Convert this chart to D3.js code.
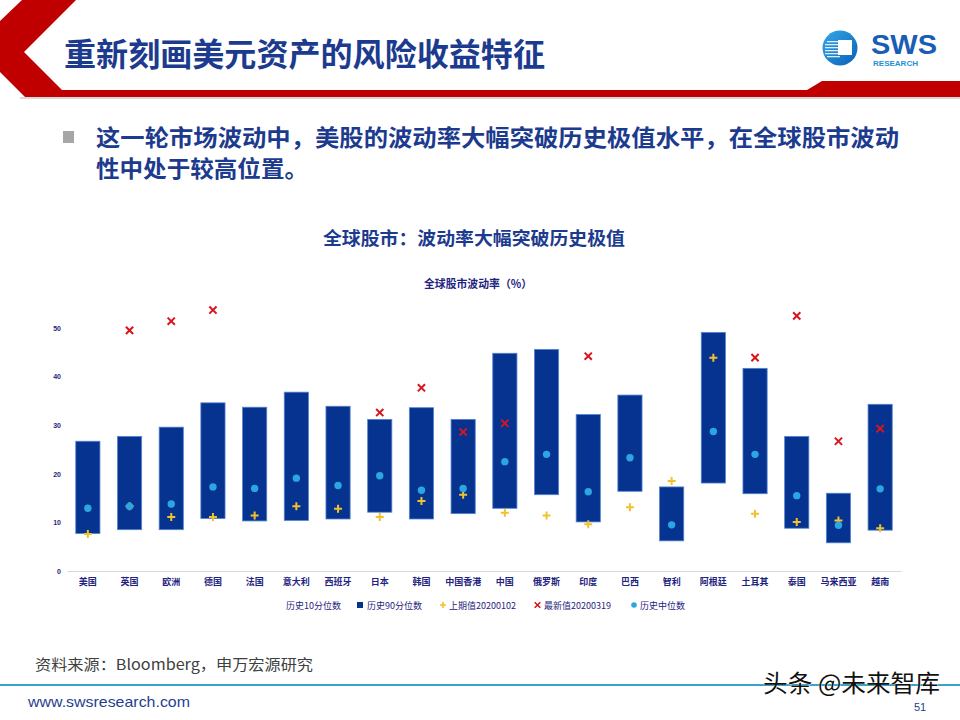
<!DOCTYPE html>
<html><head><meta charset="utf-8">
<script src="https://cdn.jsdelivr.net/npm/d3@7"></script>
<style>body{margin:0;background:#fff}svg{display:block}</style>
</head><body>
<script>
const categories = ["美国","英国","欧洲","德国","法国","意大利","西班牙","日本","韩国","中国香港","中国","俄罗斯","印度","巴西","智利","阿根廷","土耳其","泰国","马来西亚","越南"];
const p10 =    [7.7, 8.5, 8.5,10.8,10.3,10.4,10.7,12.1,10.7,11.8,12.9,15.7,10.1,16.4, 6.2,18.1,15.9, 8.8, 5.8, 8.4];
const p90 =    [26.7,27.7,29.6,34.6,33.7,36.8,33.9,31.2,33.6,31.2,44.8,45.6,32.2,36.2,17.3,49.1,41.7,27.7,16.0,34.3];
const prev =   [7.6,13.3,11.1,11.1,11.4,13.3,12.8,11.1,14.4,15.7,12.0,11.4, 9.6,13.1,18.5,43.9,11.8,10.1,10.4, 8.8];
const latest = [null,49.5,51.4,53.7,null,null,null,32.6,37.7,28.6,30.4,null,44.2,null,null,null,43.9,52.5,26.7,29.3];
const median = [12.9,13.3,13.8,17.3,17.0,19.1,17.6,19.6,16.6,17.0,22.5,24.0,16.3,23.3, 9.5,28.7,24.0,15.5, 9.4,16.9];
const yTicks = [0,10,20,30,40,50];
const legendLabels = ["历史10分位数","历史90分位数","上期值20200102","最新值20200319","历史中位数"];

const W=960,H=720;
const navy="#1c3b8e", axisNavy="#1f2380";
const cBar="#06338f", cBarEdge="#5584d0", cMed="#2ba6e1", cPrev="#f2c12e", cLatest="#d8151e";
const cjk = "'Noto Sans CJK SC','Noto Sans',sans-serif";

const svg=d3.select("body").append("svg").attr("width",W).attr("height",H).style("font-family",cjk);
svg.append("rect").attr("width",W).attr("height",H).attr("fill","#fff");

// Header decoration
svg.append("rect").attr("x",20).attr("y",97).attr("width",940).attr("height",2).attr("fill","#d9d9d9");
svg.append("path").attr("fill","#c00000")
  .attr("d","M22,0 L76,0 L24,52 L62,90 L807,90 L822,81 L960,81 L960,97 L25,97 L0,72 L0,21 Z");

// Title
svg.append("text").attr("x",64).attr("y",66).attr("font-size",32).attr("font-weight","bold")
  .attr("fill",navy).attr("textLength",481).attr("lengthAdjust","spacingAndGlyphs")
  .text("重新刻画美元资产的风险收益特征");

// Logo
const defs=svg.append("defs");
const lg=defs.append("linearGradient").attr("id","lg").attr("x1","0").attr("y1","0").attr("x2","1").attr("y2","1");
lg.append("stop").attr("offset","0").attr("stop-color","#35a9e8");
lg.append("stop").attr("offset","1").attr("stop-color","#0b5fb5");
svg.append("circle").attr("cx",840).attr("cy",48).attr("r",17.5).attr("fill","url(#lg)");
[41,44,47,50,53,56].forEach((yy,i)=>{
  svg.append("rect").attr("x",825+(i===0||i===5?2:0)).attr("y",yy).attr("width",13).attr("height",1.3).attr("fill","#fff").attr("opacity",0.85);
});
svg.append("rect").attr("x",838).attr("y",40).attr("width",14).attr("height",15).attr("fill","#fff");
svg.append("text").attr("x",871).attr("y",54).attr("font-family","'Liberation Sans',Arial,sans-serif")
  .attr("font-size",27).attr("font-weight","bold").attr("fill","#1a5db5")
  .attr("textLength",66).attr("lengthAdjust","spacingAndGlyphs").text("SWS");
svg.append("text").attr("x",873).attr("y",65.5).attr("font-family","'Liberation Sans',Arial,sans-serif")
  .attr("font-size",7.5).attr("font-weight","bold").attr("fill","#1e8fd6")
  .attr("textLength",45).attr("lengthAdjust","spacingAndGlyphs").text("RESEARCH");

// Bullet text
svg.append("rect").attr("x",63).attr("y",131).attr("width",11).attr("height",12).attr("fill","#a6a6a6");
svg.append("text").attr("x",96).attr("y",146).attr("font-size",23).attr("font-weight","bold").attr("fill",navy)
  .attr("textLength",803).attr("lengthAdjust","spacingAndGlyphs")
  .text("这一轮市场波动中，美股的波动率大幅突破历史极值水平，在全球股市波动");
svg.append("text").attr("x",96).attr("y",177).attr("font-size",23).attr("font-weight","bold").attr("fill",navy)
  .attr("textLength",212).attr("lengthAdjust","spacingAndGlyphs")
  .text("性中处于较高位置。");

// Chart titles
svg.append("text").attr("x",323).attr("y",245).attr("font-size",18)
  .attr("font-weight","bold").attr("fill",navy).attr("textLength",302).attr("lengthAdjust","spacingAndGlyphs")
  .text("全球股市：波动率大幅突破历史极值");
svg.append("text").attr("x",424).attr("y",288).attr("font-size",11)
  .attr("font-weight","bold").attr("fill",axisNavy).attr("textLength",108).attr("lengthAdjust","spacingAndGlyphs")
  .text("全球股市波动率（%）");

// Scales
const x=d3.scaleBand().domain(categories).range([67,901]).paddingInner(0.42).paddingOuter(0.21);
const y=d3.scaleLinear().domain([0,50]).range([571,328]);
const data=categories.map((c,i)=>({c,p10:p10[i],p90:p90[i],prev:prev[i],latest:latest[i],median:median[i]}));

// Y axis labels
const yAxis=d3.axisLeft(y).tickValues(yTicks).tickSize(0).tickPadding(0);
const ya=svg.append("g").attr("transform","translate(61,0)").call(yAxis);
ya.select(".domain").remove();
ya.selectAll("text").attr("font-size",7).attr("font-weight","bold").attr("fill",axisNavy).attr("font-family","'Liberation Sans',Arial,sans-serif");

// X axis
const xAxis=d3.axisBottom(x).tickSize(0).tickPadding(8);
const xa=svg.append("g").attr("transform","translate(0,571)").call(xAxis);
xa.select(".domain").attr("stroke","#d9d9d9").attr("stroke-width",1.2);
xa.selectAll("text").attr("font-size",9).attr("font-weight","bold").attr("fill",axisNavy).attr("font-family",cjk);

// Bars (10th to 90th percentile)
svg.append("g").selectAll("rect").data(data).join("rect")
  .attr("x",d=>x(d.c)).attr("width",x.bandwidth())
  .attr("y",d=>y(d.p90)).attr("height",d=>y(d.p10)-y(d.p90))
  .attr("fill",cBar).attr("stroke",cBarEdge).attr("stroke-width",0.8);

// Previous (+)
svg.append("g").selectAll("path").data(data.filter(d=>d.prev!=null)).join("path")
  .attr("transform",d=>`translate(${x(d.c)+x.bandwidth()/2},${y(d.prev)})`)
  .attr("d","M-4,0H4M0,-4V4").attr("stroke",cPrev).attr("stroke-width",2).attr("fill","none");

// Latest (x)
svg.append("g").selectAll("path").data(data.filter(d=>d.latest!=null)).join("path")
  .attr("transform",d=>`translate(${x(d.c)+x.bandwidth()/2},${y(d.latest)})`)
  .attr("d","M-3.6,-3.6L3.6,3.6M3.6,-3.6L-3.6,3.6").attr("stroke",cLatest).attr("stroke-width",2).attr("fill","none");

// Median (circle)
svg.append("g").selectAll("circle").data(data).join("circle")
  .attr("cx",d=>x(d.c)+x.bandwidth()/2).attr("cy",d=>y(d.median)).attr("r",3.7).attr("fill",cMed);

// Legend
const lgY=605;
const leg=svg.append("g").attr("font-size",9).attr("fill",axisNavy);
const lx=[286,367,449,544,640];
legendLabels.forEach((t,i)=>{
  leg.append("text").attr("x",lx[i]).attr("y",lgY+3.5).attr("fill",axisNavy).text(t);
});
leg.append("rect").attr("x",357).attr("y",lgY-3).attr("width",6).attr("height",6).attr("fill",cBar);
leg.append("path").attr("transform",`translate(443,${lgY})`).attr("d","M-3,0H3M0,-3V3").attr("stroke",cPrev).attr("stroke-width",1.6);
leg.append("path").attr("transform",`translate(537.5,${lgY})`).attr("d","M-2.8,-2.8L2.8,2.8M2.8,-2.8L-2.8,2.8").attr("stroke",cLatest).attr("stroke-width",1.6);
leg.append("circle").attr("cx",634).attr("cy",lgY).attr("r",2.8).attr("fill",cMed);

// Footer
svg.append("text").attr("x",35).attr("y",670).attr("font-size",15).attr("fill","#404040")
  .attr("textLength",278).attr("lengthAdjust","spacingAndGlyphs").text("资料来源：Bloomberg，申万宏源研究");
svg.append("rect").attr("x",0).attr("y",684).attr("width",W).attr("height",2).attr("fill","#3aa3c9");
svg.append("text").attr("x",28).attr("y",707).attr("font-size",15).attr("font-family","'Liberation Sans',Arial,sans-serif")
  .attr("fill","#1f3f8f").attr("textLength",162).attr("lengthAdjust","spacingAndGlyphs").text("www.swsresearch.com");
svg.append("text").attr("x",763).attr("y",692).attr("font-size",24).attr("fill","#111")
  .attr("stroke","#fff").attr("stroke-width",0.6).attr("paint-order","stroke")
  .attr("textLength",177).attr("lengthAdjust","spacingAndGlyphs").text("头条 @未来智库");
svg.append("text").attr("x",914).attr("y",711).attr("font-size",11).attr("font-family","'Liberation Sans',Arial,sans-serif")
  .attr("fill","#1f3f8f").text("51");
</script>
</body></html>
